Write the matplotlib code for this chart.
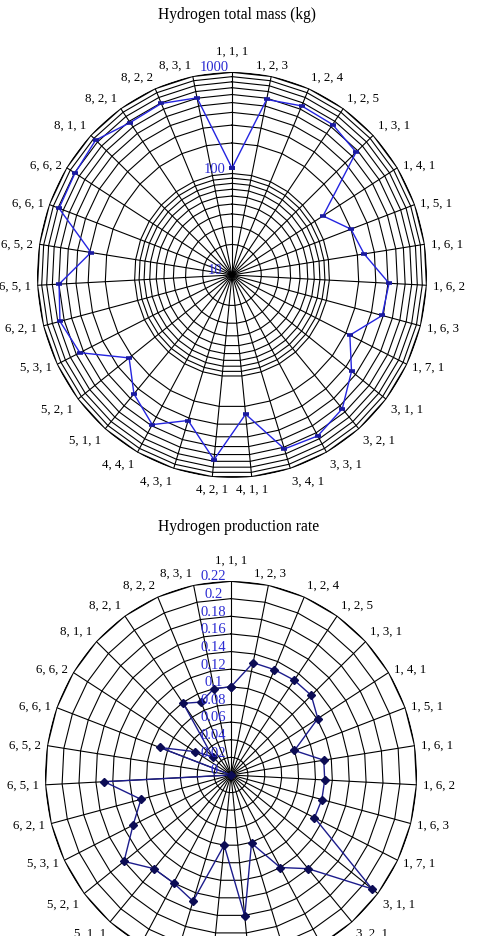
import numpy as np
import matplotlib.pyplot as plt

plt.rcParams['font.family'] = ['Liberation Serif', 'DejaVu Serif']

categories = ["1, 1, 1", "1, 2, 3", "1, 2, 4", "1, 2, 5", "1, 3, 1", "1, 4, 1",
              "1, 5, 1", "1, 6, 1", "1, 6, 2", "1, 6, 3", "1, 7, 1", "3, 1, 1",
              "3, 2, 1", "3, 3, 1", "3, 4, 1", "4, 1, 1", "4, 2, 1", "4, 3, 1",
              "4, 4, 1", "5, 1, 1", "5, 2, 1", "5, 3, 1", "6, 2, 1", "6, 5, 1",
              "6, 5, 2", "6, 6, 1", "6, 6, 2", "8, 1, 1", "8, 2, 1", "8, 2, 2",
              "8, 3, 1"]

# hydrogen total mass (kg), log radial axis
mass_kg = [113, 583, 650, 640, 570, 126, 200, 235, 410, 390, 222, 355, 545,
           650, 625, 239, 675, 318, 485, 350, 216, 547, 665, 597, 291, 780,
           790, 850, 675, 690, 605]
mass_ticks = [10, 100, 1000]
mass_labels = ["10", "100", "1000"]
mass_rings = [20, 30, 40, 50, 60, 70, 80, 90, 100,
              200, 300, 400, 500, 600, 700, 800, 900, 1000]

# hydrogen production rate, linear radial axis
rate = [0.100, 0.130, 0.130, 0.131, 0.131, 0.121, 0.080, 0.111, 0.111, 0.111,
        0.110, 0.211, 0.140, 0.120, 0.081, 0.161, 0.080, 0.150, 0.140, 0.140,
        0.160, 0.129, 0.110, 0.150, 0.000, 0.090, 0.050, 0.030, 0.099, 0.090,
        0.100]
rate_ticks = [0, 0.02, 0.04, 0.06, 0.08, 0.1, 0.12, 0.14, 0.16, 0.18, 0.2, 0.22]
rate_labels = ["0", "0.02", "0.04", "0.06", "0.08", "0.1", "0.12", "0.14",
               "0.16", "0.18", "0.2", "0.22"]

BLUE = "#2b2bd2"

fig = plt.figure(figsize=(4.85, 9.37), dpi=100)
theta = np.linspace(0, 2 * np.pi, len(categories), endpoint=False)
closed = np.append(theta, theta[0])


def radar(rect, values, rmin, rmax, rings, ticks, labels, log, line_color,
          marker, ms, mew, mcolor):
    ax = fig.add_axes(rect, projection='polar')
    ax.set_theta_zero_location('N')
    ax.set_theta_direction(-1)
    if log:
        ax.set_rscale('log')
    ax.set_rlim(rmin, rmax)
    ax.set_aspect('auto')
    ax.spines['polar'].set_visible(False)
    ax.set_yticks([])
    ax.set_xticks(theta)
    ax.set_xticklabels([])
    ax.tick_params(axis='x', length=0)
    ax.xaxis.grid(True, color='black', lw=0.8)
    for r in rings:
        lw = 1.3 if r == rmax else 0.8
        ax.plot(closed, [r] * len(closed), color='black', lw=lw, zorder=1)

    v = list(values) + [values[0]]
    ax.plot(closed, v, color=line_color, lw=1.0, marker=marker, ms=ms,
            mew=mew, mfc=mcolor, mec=mcolor, zorder=3, clip_on=False)

    for t, lab in zip(theta, categories):
        s, c = np.sin(t), np.cos(t)
        ha = 'left' if s > 0.28 else ('right' if s < -0.15 else 'center')
        va = 'bottom' if c > 0.6 else ('top' if c < -0.6 else 'center')
        gap = 11 if c > 0.99 else 4.3
        ax.annotate(lab, xy=(t, rmax), xytext=(gap * s, gap * c),
                    textcoords='offset points', ha=ha, va=va, fontsize=9.3,
                    annotation_clip=False)
    for r, lab in zip(ticks, labels):
        ax.annotate(lab, xy=(0, r), xytext=(-12.5, -1),
                    textcoords='offset points', ha='center', va='bottom',
                    fontsize=10.5, color=BLUE, annotation_clip=False, zorder=4)
    return ax


radar([37 / 485, 1 - 479 / 937, 390 / 485, 406 / 937], mass_kg, 10, 1000,
      mass_rings, mass_ticks, mass_labels, True, "#2424e0", '_', 5, 2.6,
      "#1a1aa0")
radar([45 / 485, 1 - 970 / 937, 372 / 485, 388 / 937], rate, 0, 0.22,
      rate_ticks[1:], rate_ticks, rate_labels, False, "#1c1c8c", 'D', 4.2, 1,
      "#0c0c55")

fig.text(237 / 485, 1 - 15 / 937, "Hydrogen total mass (kg)", ha='center',
         va='center', fontsize=11.2)
fig.text(239 / 485, 1 - 527 / 937, "Hydrogen production rate", ha='center',
         va='center', fontsize=11.2)

fig.savefig("out.png", dpi=100)
